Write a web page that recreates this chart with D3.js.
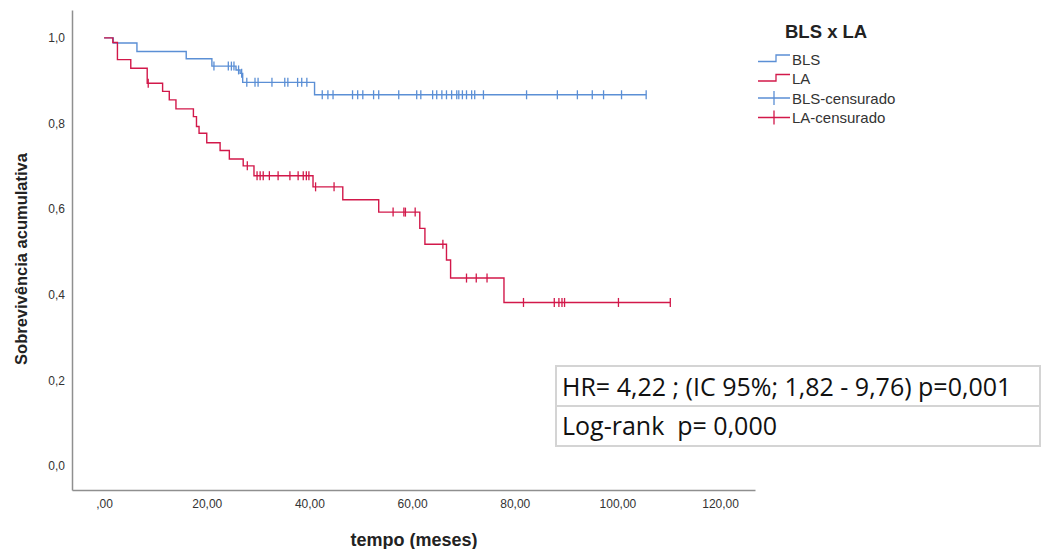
<!DOCTYPE html>
<html>
<head>
<meta charset="utf-8">
<script src="https://cdn.jsdelivr.net/npm/d3@7"></script>
<style>
  body { margin: 0; background: #fff; }
  svg { display: block; }
</style>
</head>
<body>
<div id="app"></div>
<script>
// event times (meses) and survival after each step
const blsTimes = [0, 1.8, 6.4, 16.0, 21.0, 25.7, 26.5, 27.0, 41.0, 105.6];
const blsSurv = [1.0, 0.988, 0.968, 0.951, 0.934, 0.925, 0.917, 0.896, 0.867, 0.867];
const blsCensored = [21.4, 24.2, 24.8, 25.3, 26.2, 26.8, 27.8, 29.4, 30.0, 32.7, 35.2, 35.8,
  37.7, 38.5, 39.5, 42.5, 43.6, 44.6, 48.4, 49.4, 50.4, 52.5, 53.5, 57.4, 60.9, 61.7,
  64.0, 64.8, 65.8, 66.7, 67.7, 68.7, 69.1, 69.8, 70.6, 71.6, 72.2, 73.9, 82.3, 88.3,
  92.2, 95.1, 97.3, 100.8, 105.6];

const laTimes = [0, 1.7, 2.6, 5.2, 8.4, 11.4, 12.7, 14.0, 17.4, 18.0, 18.5, 20.0, 22.6,
  24.4, 27.1, 29.2, 40.7, 46.5, 53.5, 61.5, 62.5, 66.7, 67.5, 77.9, 110.3];
const laSurv = [1.0, 0.989, 0.949, 0.929, 0.894, 0.875, 0.855, 0.834, 0.816, 0.793, 0.777,
  0.755, 0.737, 0.717, 0.701, 0.678, 0.652, 0.622, 0.593, 0.555, 0.518, 0.481, 0.439,
  0.382, 0.382];
const laCensored = [8.6, 27.9, 29.8, 30.4, 31.0, 32.2, 33.9, 36.2, 37.8, 38.8, 39.4, 39.9,
  41.2, 44.8, 56.3, 58.4, 58.7, 60.6, 66.0, 70.6, 72.5, 74.6, 81.7, 87.7, 88.6, 89.2,
  89.7, 100.2, 110.3];

const xTicks = [0, 20, 40, 60, 80, 100, 120];
const yTicks = [0, 0.2, 0.4, 0.6, 0.8, 1.0];
const legendLabels = ["BLS", "LA", "BLS-censurado", "LA-censurado"];
const statsLines = ["HR= 4,22 ; (IC 95%; 1,82 - 9,76) p=0,001", "Log-rank  p= 0,000"];

const blue = "#5b8fd5";
const red = "#d2184a";
const axisColor = "#8f8f8f";

const svg = d3.create("svg")
  .attr("width", 1042)
  .attr("height", 549)
  .attr("font-family", "'Liberation Sans', Arial, sans-serif");

const x = d3.scaleLinear().domain([-6.25, 126.8]).range([72, 755]);
const y = d3.scaleLinear().domain([-0.056, 1.065]).range([490, 10]);

// axes
const xAxis = svg.append("g")
  .attr("transform", "translate(0,490)")
  .call(d3.axisBottom(x).tickValues(xTicks).tickSize(0).tickPadding(9)
    .tickFormat(d => d === 0 ? ",00" : d3.format(".2f")(d).replace(".", ",")));
xAxis.select(".domain").attr("stroke", axisColor).attr("stroke-width", 1.5);
xAxis.selectAll("text").attr("font-size", 12).attr("fill", "#333")
  .attr("font-family", "'Liberation Sans', Arial, sans-serif");

const yAxis = svg.append("g")
  .attr("transform", "translate(72,0)")
  .call(d3.axisLeft(y).tickValues(yTicks).tickSize(0).tickPadding(7)
    .tickFormat(d => d3.format(".1f")(d).replace(".", ",")));
yAxis.select(".domain").attr("stroke", axisColor).attr("stroke-width", 1.5);
yAxis.selectAll("text").attr("font-size", 12).attr("fill", "#333")
  .attr("font-family", "'Liberation Sans', Arial, sans-serif");

svg.append("text")
  .attr("x", 414)
  .attr("y", 546)
  .attr("text-anchor", "middle")
  .attr("font-size", 18)
  .attr("font-weight", "bold")
  .attr("fill", "#222")
  .text("tempo (meses)");

svg.append("text")
  .attr("transform", "translate(27,259) rotate(-90)")
  .attr("text-anchor", "middle")
  .attr("font-size", 16.5)
  .attr("font-weight", "bold")
  .attr("fill", "#222")
  .text("Sobrevivência acumulativa");

// step curves
const step = d3.line().curve(d3.curveStepAfter).x(d => x(d[0])).y(d => y(d[1]));

function survAt(times, surv, t) {
  let s = surv[0];
  for (let i = 0; i < times.length; i++) if (times[i] <= t) s = surv[i];
  return s;
}

function drawGroup(times, surv, censored, color) {
  svg.append("path")
    .attr("d", step(d3.zip(times, surv)))
    .attr("fill", "none")
    .attr("stroke", color)
    .attr("stroke-width", 1.4);

  svg.append("g")
    .selectAll("line")
    .data(censored)
    .join("line")
    .attr("x1", d => x(d))
    .attr("x2", d => x(d))
    .attr("y1", d => y(survAt(times, surv, d)) - 4.5)
    .attr("y2", d => y(survAt(times, surv, d)) + 4.5)
    .attr("stroke", color)
    .attr("stroke-width", 1.3);
}

drawGroup(blsTimes, blsSurv, blsCensored, blue);
drawGroup(laTimes, laSurv, laCensored, red);

// legend
svg.append("text")
  .attr("x", 785)
  .attr("y", 38)
  .attr("font-size", 18.5)
  .attr("font-weight", "bold")
  .attr("fill", "#222")
  .text("BLS x LA");

const legendColors = [blue, red, blue, red];
const leg = svg.append("g").selectAll("g")
  .data(legendLabels)
  .join("g")
  .attr("transform", (d, i) => `translate(0,${59 + i * 19.5})`);

leg.append("path")
  .attr("d", (d, i) => i < 2 ? "M758,2.5H776V-4H790" : "M758,0H790M774,-7V7")
  .attr("fill", "none")
  .attr("stroke", (d, i) => legendColors[i])
  .attr("stroke-width", 1.3);

leg.append("text")
  .attr("x", 792)
  .attr("y", 5.5)
  .attr("font-size", 15)
  .attr("fill", "#333")
  .text(d => d);

// stats box
svg.append("rect")
  .attr("x", 556)
  .attr("y", 366)
  .attr("width", 484)
  .attr("height", 80)
  .attr("fill", "#fff")
  .attr("stroke", "#d4d4d4")
  .attr("stroke-width", 2);

svg.append("line")
  .attr("x1", 556).attr("x2", 1040)
  .attr("y1", 406).attr("y2", 406)
  .attr("stroke", "#d4d4d4")
  .attr("stroke-width", 2);

svg.append("g").selectAll("text")
  .data(statsLines)
  .join("text")
  .attr("x", 562)
  .attr("y", (d, i) => 396 + i * 39)
  .attr("font-family", "'Open Sans', Lato, sans-serif")
  .attr("font-size", 25)
  .attr("fill", "#111")
  .style("white-space", "pre")
  .text(d => d);

document.getElementById("app").append(svg.node());
</script>
</body>
</html>
